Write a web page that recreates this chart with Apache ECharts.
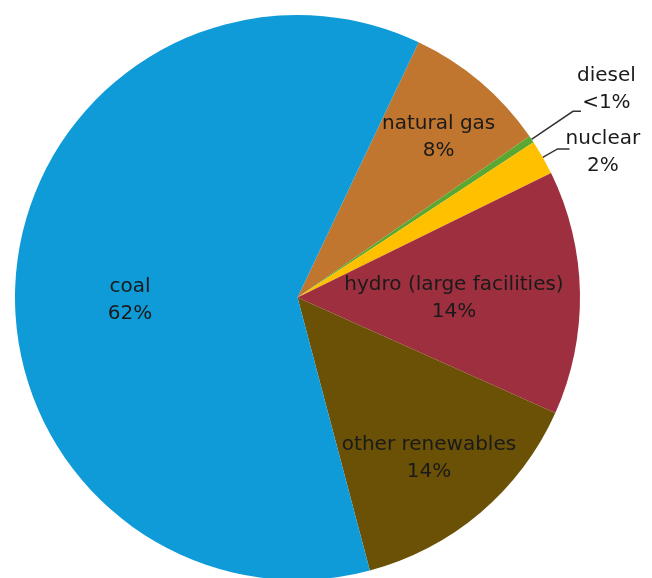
<!DOCTYPE html>
<html>
<head>
<meta charset="utf-8">
<script src="https://cdn.jsdelivr.net/npm/echarts@6/dist/echarts.min.js"></script>
<style>html,body{margin:0;padding:0;background:#fff;}#c{width:652px;height:578px;}</style>
</head>
<body>
<div id="c"></div>
<script>
// Data (clockwise from the natural gas slice)
var categories = ['natural gas', 'diesel', 'nuclear', 'hydro (large facilities)', 'other renewables', 'coal'];
var values = [8.3, 0.4, 2.0, 14.0, 14.2, 61.3];
var percentLabels = ['8%', '<1%', '2%', '14%', '14%', '62%'];

// Styles
var colors = ['#c0762f', '#5aa832', '#ffc000', '#9e2f3f', '#6a5105', '#0e9bd8'];
// inside label anchor: radius fraction and angle shift from slice middle (null = outside label)
var labelRadiusFactor = [0.757, null, null, 0.554, 0.734, 0.593];
var labelAngleShift = [-1.0, 0, 0, -1.2, -1.0, 6.2];
var lineLen = [0, 50, 17, 0, 0, 0];
var lineLen2 = [0, 8, 12, 0, 0, 0];
var labelPad = [0, [0, 0, 44, 0], [6, 0, 0, 0], 0, 0, 0];

var FONT = 'DejaVu Sans, Verdana, sans-serif';
var chart = echarts.init(document.getElementById('c'));
var cx = 297.5, cy = 297.5, R = 282.5;
var startAngle = 64.6;
var total = values.reduce(function (a, b) { return a + b; }, 0);

var data = categories.map(function (n, i) {
  var outside = labelRadiusFactor[i] === null;
  return {
    name: n,
    value: values[i],
    itemStyle: { color: colors[i] },
    label: outside ? {
      position: 'outside',
      distanceToLabelLine: -4,
      padding: labelPad[i],
      formatter: '{a|' + n + '}\n{a|' + percentLabels[i] + '}'
    } : {
      position: 'inside',
      formatter: n + '\n' + percentLabels[i]
    },
    labelLine: outside ? { show: true, length: lineLen[i], length2: lineLen2[i] } : { show: false }
  };
});

chart.setOption({
  animation: false,
  series: [{
    type: 'pie',
    center: [cx, cy],
    radius: [0, R],
    startAngle: startAngle,
    clockwise: true,
    avoidLabelOverlap: false,
    data: data,
    itemStyle: { borderWidth: 0 },
    label: {
      color: '#1a1a1a',
      fontFamily: FONT,
      fontSize: 20,
      lineHeight: 27,
      align: 'center',
      rich: { a: { fontSize: 20, lineHeight: 27, align: 'center', color: '#1a1a1a', fontFamily: FONT } }
    },
    labelLine: {
      lineStyle: { color: '#333', width: 1.5 }
    },
    labelLayout: function (params) {
      var i = params.dataIndex;
      var f = labelRadiusFactor[i];
      if (f === null) return {};
      var before = 0;
      for (var k = 0; k < i; k++) before += values[k];
      var midDeg = startAngle - (before + values[i] / 2) / total * 360 + labelAngleShift[i];
      var a = midDeg * Math.PI / 180;
      var tx = cx + Math.cos(a) * R * f;
      var ty = cy - Math.sin(a) * R * f;
      var lx = params.labelRect.x + params.labelRect.width / 2;
      var ly = params.labelRect.y + params.labelRect.height / 2;
      return { dx: tx - lx, dy: ty - ly };
    }
  }]
});
</script>
</body>
</html>
